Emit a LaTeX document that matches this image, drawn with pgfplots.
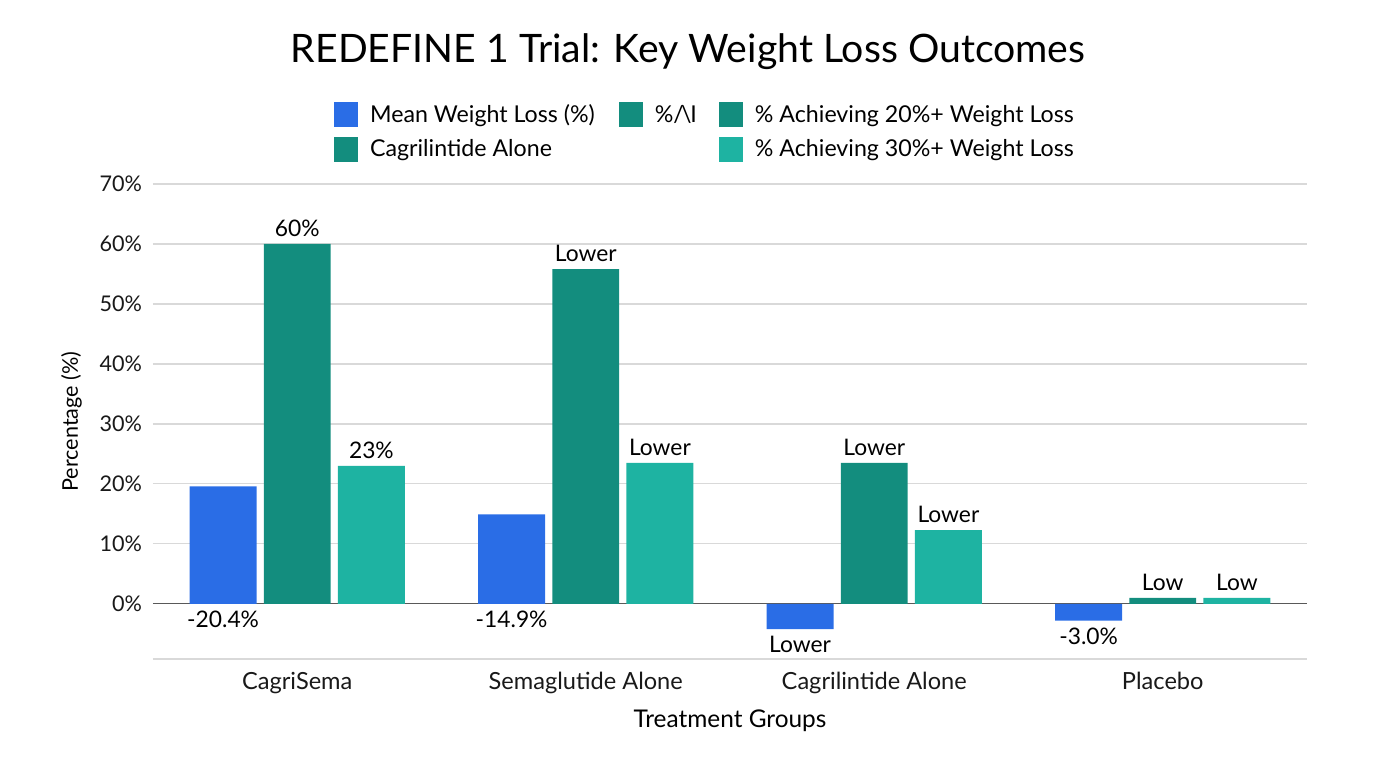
\documentclass[border=0pt]{standalone}
\usepackage{pgfplots}
\pgfplotsset{compat=1.18}
\usepackage{fontspec}
\setmainfont{Lato}

\definecolor{cblue}{HTML}{2A6DE6}
\definecolor{cteal}{HTML}{138D7E}
\definecolor{clight}{HTML}{1EB3A2}
\definecolor{cgrid}{HTML}{D9D9D9}

\begin{document}
\begin{tikzpicture}
% page frame: 1376x768 px at 0.5pt per px
\path (0,0) rectangle (688pt,384pt);
\node[font=\fontsize{19.6}{23}\selectfont] at (344pt,358pt) {REDEFINE 1 Trial: Key Weight Loss Outcomes};

\begin{axis}[
    at={(76.5pt,54.5pt)}, anchor=south west,
    scale only axis,
    width=577pt, height=237.5pt,
    xmin=-0.5, xmax=3.5,
    ymin=-9.2, ymax=70,
    xtick={0,1,2,3},
    xticklabels={CagriSema,Semaglutide Alone,Cagrilintide Alone,Placebo},
    ytick={0,10,20,30,40,50,60,70},
    yticklabel={\pgfmathprintnumber{\tick}\%},
    /pgf/number format/assume math mode=true,
    ymajorgrids=true,
    grid style={cgrid, line width=0.6pt},
    major tick length=0pt,
    axis lines=left,
    y axis line style={draw=none},
    x axis line style={draw=cgrid, line width=0.6pt, -},
    extra y ticks={0},
    extra y tick labels={},
    extra y tick style={grid style={black!65, line width=0.6pt}},
    yticklabel style={font=\fontsize{10.8}{12}\selectfont, text=black!90, xshift=-2pt},
    xticklabel style={font=\fontsize{11.8}{13}\selectfont, text=black!90, yshift=-3pt},
    xlabel={Treatment Groups},
    ylabel={Percentage (\%)},
    xlabel style={font=\fontsize{12.2}{14}\selectfont, yshift=-1pt},
    ylabel style={font=\fontsize{10.8}{12}\selectfont, yshift=2pt},
    legend style={at={(0.1514,1.185)}, anchor=north west, draw=none, fill=none,
        font=\fontsize{11.6}{13}\selectfont, column sep=4pt, row sep=3pt},
    legend columns=3,
    legend cell align=left,
    legend image code/.code={\fill[#1] (6pt,-6pt) rectangle (18pt,6.5pt);},
    every node near coord/.append style={font=\fontsize{11.4}{13}\selectfont, text=black},
]

\addplot[ybar, bar width=0.232, bar shift=-0.257, fill=cblue, draw=none]
    coordinates {(0,19.6) (1,14.9) (2,-4.2) (3,-2.8)};
\addlegendentry{Mean Weight Loss (\%)}

\addlegendimage{fill=cteal, draw=none}
\addlegendentry{\%/\kern-0.12em\textbackslash\kern-0.05em I\rule{5pt}{0pt}}

\addplot[ybar, bar width=0.232, bar shift=0, fill=cteal, draw=none]
    coordinates {(0,60.0) (1,55.8) (2,23.5) (3,1.0)};
\addlegendentry{\% Achieving 20\%+ Weight Loss}

\addlegendimage{fill=cteal, draw=none}
\addlegendentry{Cagrilintide Alone}

\addlegendimage{empty legend}
\addlegendentry{}

\addplot[ybar, bar width=0.232, bar shift=0.257, fill=clight, draw=none]
    coordinates {(0,23.0) (1,23.5) (2,12.3) (3,1.0)};
\addlegendentry{\% Achieving 30\%+ Weight Loss}

% value labels above the 20%+ and 30%+ bars
\addplot[draw=none, mark=none, forget plot,
    nodes near coords, point meta=explicit symbolic,
    nodes near coords align={above}]
    table[meta=label] {
    x y label
    0 60.0 60\%
    1 55.8 Lower
    2 23.5 Lower
    3 1.0 Low
    0.257 23.0 23\%
    1.257 23.5 Lower
    2.257 12.3 Lower
    3.257 1.0 Low
    };

% labels under the mean weight loss bars
\addplot[draw=none, mark=none, forget plot,
    nodes near coords, point meta=explicit symbolic,
    nodes near coords align={below}]
    table[meta=label] {
    x y label
    -0.257 0 -20.4\%
    0.743 0 -14.9\%
    1.743 -4.2 Lower
    2.743 -2.8 -3.0\%
    };
\end{axis}
\end{tikzpicture}
\end{document}
